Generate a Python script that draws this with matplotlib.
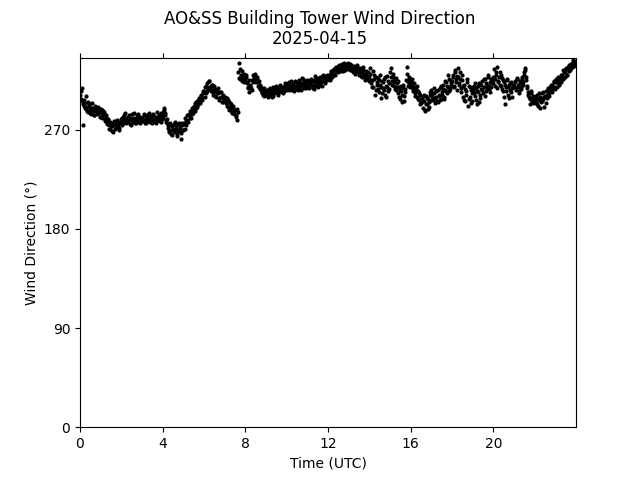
import matplotlib
matplotlib.use("Agg")
import matplotlib.pyplot as plt
import numpy as np

# wind direction (deg) read at every 3 minutes, one row per hour (UTC)
wind_dir_a = [
    302, 305, 296, 274, 292, 294, 289, 291, 286, 293, 288, 284, 290, 287, 283, 289, 286, 291, 285, 288,
    285, 288, 283, 286, 280, 282, 277, 279, 274, 271, 276, 273, 268, 275, 277, 272, 278, 274, 270, 276,
    278, 281, 276, 283, 279, 277, 282, 280, 275, 279, 284, 278, 281, 276, 280, 283, 277, 279, 282, 278,
    281, 278, 283, 279, 276, 282, 280, 284, 277, 281, 279, 283, 278, 280, 276, 282, 279, 281, 277, 283,
    286, 290, 283, 279, 276, 272, 268, 274, 270, 265, 271, 275, 268, 273, 264, 270, 276, 272, 262, 274,
    270, 276, 281, 274, 279, 283, 281, 286, 284, 289, 292, 287, 295, 291, 293, 298, 294, 301, 297, 303,
    305, 309, 303, 312, 307, 314, 309, 305, 311, 302, 308, 305, 300, 306, 303, 297, 304, 300, 295, 299,
    297, 294, 299, 291, 295, 289, 293, 286, 290, 284, 288, 282, 279, 322, 331, 316, 320, 314, 318, 321,
    316, 320, 312, 308, 304, 310, 306, 313, 317, 319, 315, 318, 313, 309, 311, 306, 303, 307, 301, 305,
    302, 306, 300, 304, 308, 303, 305, 301, 307, 304, 309, 305, 302, 307, 310, 306, 303, 308, 311, 306,
    309, 312, 306, 310, 314, 308, 311, 305, 309, 313, 307, 311, 315, 310, 306, 312, 316, 309, 313, 308,
    310, 314, 308, 312, 316, 311, 307, 313, 317, 312, 309, 315, 318, 313, 310, 316, 319, 314, 317, 320,
    317, 320, 315, 322, 318, 324, 321, 326, 323, 327, 324, 328, 325, 329, 326, 323, 328, 325, 330, 326,
    327, 324, 329, 325, 322, 328, 326, 323, 327, 324, 320, 325, 322, 318, 324, 321, 317, 323, 319, 316,
    318, 326, 312, 315, 309, 320, 306, 313, 317, 304, 311, 299, 314, 308, 316, 302, 310, 319, 305, 312,
    322, 326, 314, 318, 310, 316, 306, 312, 303, 309, 298, 305, 295, 311, 301, 307, 327, 313, 318, 309,
    314, 310, 307, 312, 303, 309, 300, 305, 297, 302, 294, 299, 290, 296, 288, 301, 293, 298, 291, 304,
    306, 301, 297, 303, 299, 305, 295, 302, 308, 298, 304, 311, 300, 306, 313, 303, 309, 316, 307, 312,
    314, 320, 310, 324, 316, 306, 318, 312, 322, 308, 315, 300, 311, 296, 305, 313, 298, 309, 294, 303,
    306, 310, 301, 308, 293, 304, 312, 299, 307, 314, 303, 309, 316, 305, 311, 318, 307, 313, 309, 315,
    312, 325, 316, 320, 308, 314, 322, 310, 317, 305, 313, 293, 309, 315, 302, 311, 306, 313, 300, 309,
    310, 314, 306, 316, 309, 303, 312, 307, 318, 311, 322, 326, 315, 308, 302, 298, 305, 295, 301, 297,
    299, 294, 302, 292, 297, 300, 295, 303, 298, 291, 301, 305, 299, 307, 303, 309, 305, 311, 308, 313,
    309, 316, 313, 318, 312, 320, 316, 324, 318, 322, 326, 320, 325, 329, 324, 330, 327, 333, 328, 331,
]
# readings in between (1.5 minutes later)
wind_dir_b = [
    298, 308, 293, 297, 290, 301, 287, 295, 292, 285, 290, 294, 288, 283, 292, 287, 284, 290, 287, 282,
    289, 281, 287, 284, 278, 283, 275, 280, 271, 277, 269, 274, 278, 271, 274, 279, 275, 272, 277, 280,
    274, 282, 280, 285, 276, 281, 278, 283, 280, 274, 281, 277, 285, 279, 276, 281, 284, 279, 276, 281,
    279, 284, 276, 281, 283, 278, 285, 279, 282, 276, 284, 280, 277, 282, 286, 279, 283, 278, 285, 280,
    281, 288, 285, 277, 280, 274, 270, 276, 266, 273, 269, 277, 271, 266, 275, 269, 273, 267, 276, 270,
    275, 271, 278, 283, 277, 284, 287, 281, 290, 285, 288, 294, 290, 296, 293, 299, 296, 302, 299, 305,
    300, 310, 305, 308, 314, 309, 306, 311, 304, 310, 301, 306, 303, 308, 299, 304, 300, 295, 302, 298,
    300, 296, 292, 297, 288, 294, 291, 285, 292, 287, 283, 289, 286, 317, 325, 319, 323, 317, 313, 319,
    318, 313, 309, 315, 311, 308, 315, 320, 316, 321, 313, 316, 310, 314, 307, 309, 304, 302, 308, 303,
    305, 301, 307, 302, 306, 300, 309, 303, 306, 310, 303, 307, 304, 311, 308, 304, 309, 305, 312, 307,
    307, 311, 313, 308, 310, 306, 312, 309, 314, 310, 306, 313, 309, 312, 317, 311, 308, 314, 311, 315,
    313, 309, 315, 311, 314, 308, 315, 319, 310, 316, 313, 317, 311, 318, 314, 320, 316, 312, 318, 315,
    319, 316, 323, 319, 321, 325, 320, 327, 325, 322, 329, 327, 323, 330, 327, 331, 324, 329, 327, 331,
    325, 330, 326, 328, 323, 327, 321, 325, 329, 322, 326, 319, 323, 327, 320, 315, 321, 318, 322, 314,
    321, 314, 309, 323, 316, 302, 318, 311, 307, 315, 320, 309, 303, 313, 306, 318, 300, 309, 314, 307,
    318, 311, 321, 313, 307, 317, 309, 314, 300, 306, 310, 302, 308, 296, 304, 315, 321, 310, 316, 312,
    311, 316, 305, 309, 301, 306, 310, 298, 303, 293, 300, 296, 302, 287, 293, 299, 289, 295, 302, 297,
    303, 298, 308, 294, 300, 296, 306, 301, 297, 310, 302, 307, 298, 314, 305, 310, 320, 305, 315, 310,
    318, 309, 322, 313, 319, 326, 311, 316, 304, 320, 310, 297, 307, 302, 316, 292, 310, 300, 306, 296,
    309, 303, 312, 297, 305, 310, 295, 302, 311, 306, 316, 301, 312, 308, 320, 310, 304, 316, 312, 318,
    316, 310, 322, 327, 313, 318, 311, 320, 307, 315, 300, 311, 305, 316, 309, 299, 312, 304, 308, 311,
    313, 308, 317, 311, 305, 314, 309, 316, 313, 320, 324, 318, 310, 304, 300, 293, 303, 299, 294, 300,
    296, 301, 293, 298, 303, 290, 299, 296, 304, 300, 294, 302, 308, 301, 306, 311, 304, 309, 314, 307,
    313, 309, 316, 311, 317, 313, 320, 316, 322, 318, 325, 320, 327, 323, 329, 326, 331, 328, 332, 330,
]
step_min = 3
hours_a = np.arange(len(wind_dir_a)) * step_min / 60.0
hours_b = hours_a + 1.5 / 60.0

xticks = [0, 4, 8, 12, 16, 20]
yticks = [0, 90, 180, 270]

hours = np.concatenate([hours_a, hours_b])
wdir = np.concatenate([wind_dir_a, wind_dir_b])

fig, ax = plt.subplots(figsize=(6.4, 4.8), dpi=100)
ax.scatter(hours, wdir, s=4, color='black')
ax.set_xlim(0, 24)
ax.set_ylim(0, 335.5)
ax.set_xticks(xticks)
ax.set_yticks(yticks)
ax.tick_params(top=True)
ax.set_xlabel("Time (UTC)")
ax.set_ylabel("Wind Direction (°)")
fig.suptitle("AO&SS Building Tower Wind Direction\n2025-04-15")
plt.savefig("out.png")
